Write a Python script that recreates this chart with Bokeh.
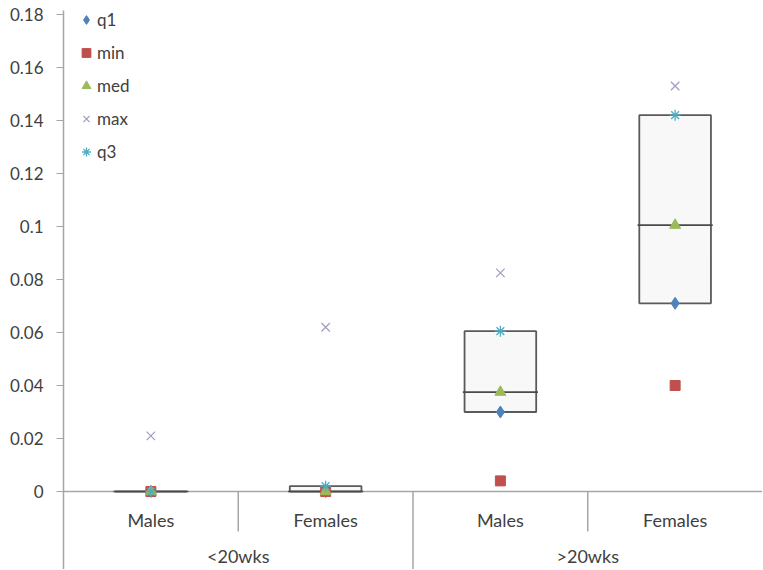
from bokeh.plotting import figure
from bokeh.models import (FactorRange, Range1d, FixedTicker, NumeralTickFormatter,
                          Span, Legend, LegendItem, ColumnDataSource)
from bokeh.core.properties import value
from bokeh.embed import file_html
from bokeh.resources import INLINE

# ---- data ----
groups = ["<20wks", "<20wks", ">20wks", ">20wks"]
sexes = ["Males", "Females", "Males", "Females"]
group_names = ["<20wks", ">20wks"]
q1 = [0.0, 0.0, 0.030, 0.071]
mins = [0.0, 0.0, 0.004, 0.040]
med = [0.0, 0.0, 0.0375, 0.1005]
maxs = [0.021, 0.062, 0.0825, 0.153]
q3 = [0.0, 0.002, 0.0605, 0.142]
y_ticks = [0, 0.02, 0.04, 0.06, 0.08, 0.1, 0.12, 0.14, 0.16, 0.18]

FONT = "Lato"
TXT = "#404040"
AX = "#a6a6a6"

factors = list(zip(groups, sexes))

p = figure(width=762, height=569,
           x_range=FactorRange(factors=factors, factor_padding=0, group_padding=0,
                               subgroup_padding=0, range_padding=0),
           y_range=Range1d(-0.02943, 0.1815),
           x_axis_location=None, output_backend="svg", toolbar_location=None,
           min_border_left=63, min_border_right=0, min_border_top=10, min_border_bottom=0)
p.outline_line_color = None
p.grid.visible = False
p.background_fill_color = "white"

ax = p.yaxis[0]
ax.ticker = FixedTicker(ticks=y_ticks)
ax.formatter = NumeralTickFormatter(format="0.[00]")
ax.major_label_text_font = FONT
ax.major_label_text_font_size = "17px"
ax.major_label_text_color = TXT
ax.major_label_standoff = 13
ax.axis_line_color = AX
ax.axis_line_width = 1.5
ax.major_tick_line_color = AX
ax.major_tick_out = 7
ax.major_tick_in = 0
ax.minor_tick_line_color = None

zero = Span(location=0, dimension="width", line_color=AX, line_width=1.5, level="underlay")
p.add_layout(zero)

# category separators
sep_src = ColumnDataSource(dict(
    x=[("<20wks", "Males", 0.5), (">20wks", "Males", 0.5)],
    y0=[0.0, 0.0], y1=[-0.0151, -0.0151]))
p.segment(x0="x", x1="x", y0="y0", y1="y1", source=sep_src, line_color=AX, line_width=1.5)
gsep_src = ColumnDataSource(dict(
    x=[("<20wks", "Females", 0.5)], y0=[0.0], y1=[-0.0295]))
p.segment(x0="x", x1="x", y0="y0", y1="y1", source=gsep_src, line_color=AX, line_width=1.5)

# category labels
p.text(x=factors, y=[-0.01057] * 4, text=sexes, text_align="center", text_baseline="middle",
       text_font=value(FONT), text_font_size="18px", text_color=TXT)
p.text(x=group_names, y=[-0.02415] * 2, text=group_names, text_align="center",
       text_baseline="middle", text_font=value(FONT), text_font_size="18px", text_color=TXT)

# boxes
src = ColumnDataSource(dict(x=factors, q1=q1, q3=q3, med=med, mins=mins, maxs=maxs,
                            xl=[(g, s, -0.215) for g, s in factors],
                            xr=[(g, s, 0.215) for g, s in factors]))
p.vbar(x="x", top="q3", bottom="q1", width=0.41, source=src,
       fill_color="#f8f8f8", line_color="#5a5a5a", line_width=1.8)
p.segment(x0="xl", x1="xr", y0="med", y1="med", source=src,
          line_color="#4a4a4a", line_width=1.6)

r_q1 = p.scatter(x="x", y="q1", source=src, marker="diamond", size=12,
                 fill_color="#4F81BD", line_color="#4F81BD")
r_min = p.scatter(x="x", y="mins", source=src, marker="square", size=10,
                  fill_color="#C0504D", line_color="#C0504D")
r_med = p.scatter(x="x", y="med", source=src, marker="triangle", size=11,
                  fill_color="#9BBB59", line_color="#9BBB59")
r_max = p.scatter(x="x", y="maxs", source=src, marker="x", size=12,
                  line_color="#a49ec2", line_width=1.3)
r_q3 = p.scatter(x="x", y="q3", source=src, marker="asterisk", size=11,
                 line_color="#4BACC6", line_width=1.3)

legend = Legend(items=[LegendItem(label="q1", renderers=[r_q1]),
                       LegendItem(label="min", renderers=[r_min]),
                       LegendItem(label="med", renderers=[r_med]),
                       LegendItem(label="max", renderers=[r_max]),
                       LegendItem(label="q3", renderers=[r_q3])],
                location=(12, 405), padding=0, margin=0, spacing=8,
                glyph_height=25, glyph_width=22, label_height=25, label_standoff=0,
                label_text_font=FONT, label_text_font_size="17px", label_text_color=TXT,
                background_fill_alpha=0, border_line_color=None)
p.add_layout(legend)

open("out.html", "w").write(file_html(p, INLINE))
